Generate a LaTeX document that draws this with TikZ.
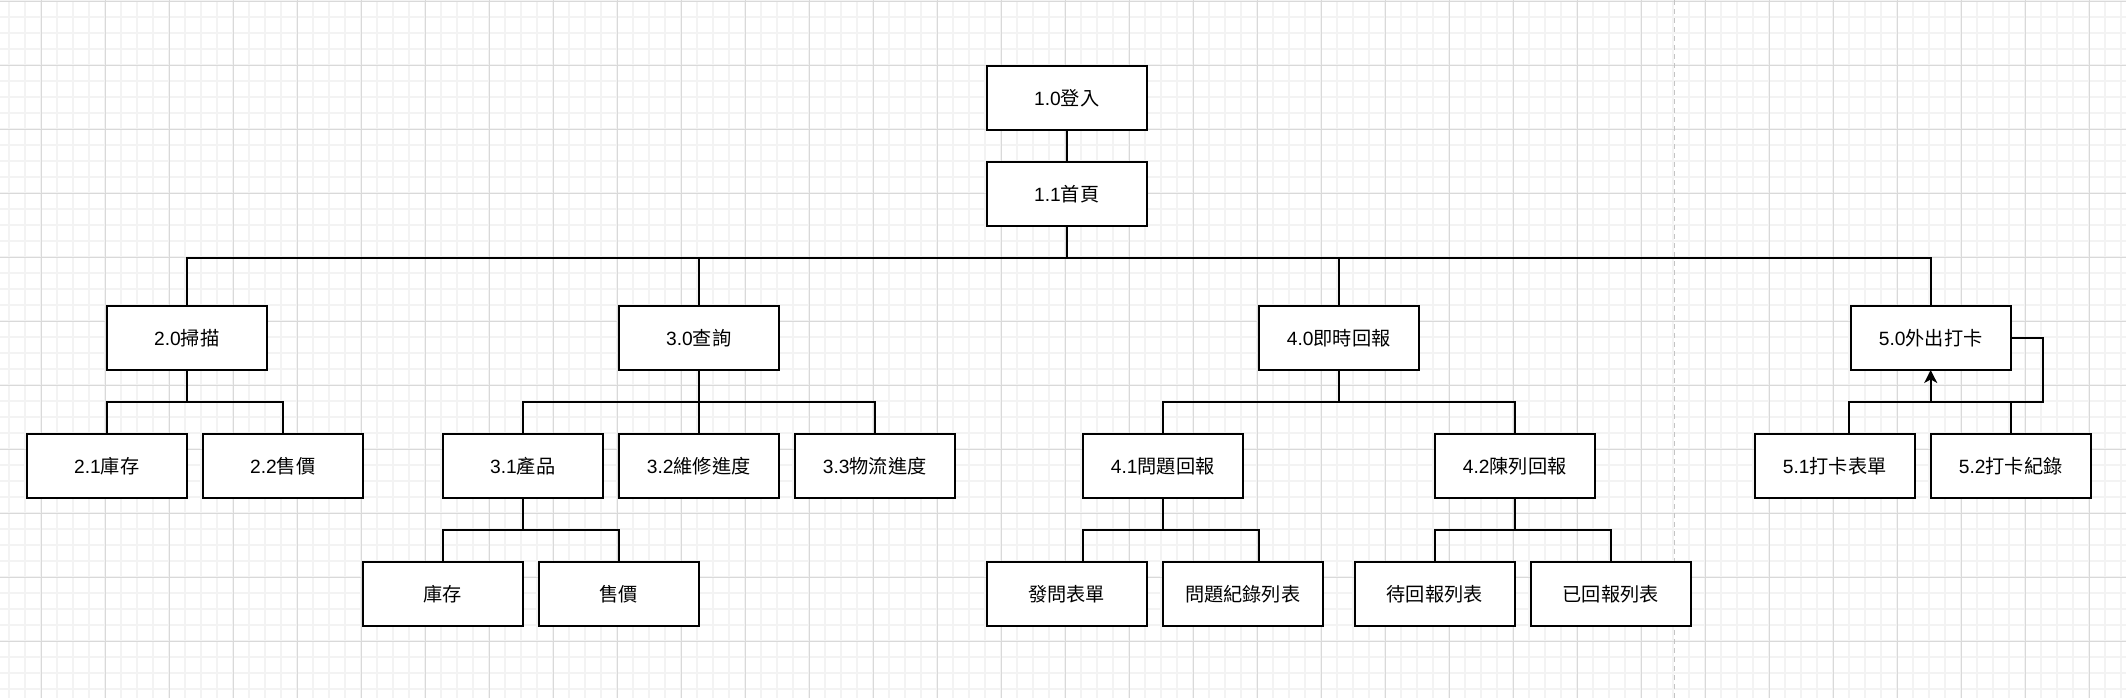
\documentclass[tikz,border=0pt]{standalone}
\usepackage{fontspec}
\setmainfont{Liberation Sans}
\newfontfamily\cjkfont{Noto Sans CJK TC}
\newcommand\zh[1]{{\cjkfont #1}}
\usetikzlibrary{arrows.meta}
\definecolor{gridminor}{HTML}{F3F3F3}
\definecolor{gridmajor}{HTML}{D9D9D9}
\definecolor{pageline}{HTML}{C4C4C4}
\begin{document}
\begin{tikzpicture}[x=0.5pt,y=-0.5pt,
 box/.style={draw=black, line width=0.8pt, fill=white, minimum width=80pt, minimum height=32pt, inner sep=0pt, outer sep=0pt, font=\fontsize{9.6pt}{11pt}\selectfont},
 link/.style={draw=black, line width=0.8pt},
 minorline/.style={draw=gridminor, line width=1pt},
 majorline/.style={draw=gridmajor, line width=0.5pt},
 pagebreak/.style={draw=pageline, line width=0.5pt, dash pattern=on 2.5pt off 2pt}]
\fill[white] (0,0) rectangle (2126,698);
\useasboundingbox (0,0) rectangle (2126,698);
% grid
\foreach \k in {0,...,132} \draw[minorline] (9.3+16*\k,0) -- (9.3+16*\k,698);
\foreach \k in {0,...,43} \draw[minorline] (0,1.3+16*\k) -- (2126,1.3+16*\k);
\foreach \k in {0,...,32} \draw[majorline] (41.3+64*\k,0) -- (41.3+64*\k,698);
\foreach \k in {0,...,10} \draw[majorline] (0,1.3+64*\k) -- (2126,1.3+64*\k);
\draw[pagebreak] (1674.7,0) -- (1674.7,698);
% nodes
\node[box] (n10) at (1066.7,98) {1.0\zh{登入}};
\node[box] (n11) at (1066.7,194) {1.1\zh{首頁}};
\node[box] (n20) at (186.7,338) {2.0\zh{掃描}};
\node[box] (n21) at (106.7,466) {2.1\zh{庫存}};
\node[box] (n22) at (282.7,466) {2.2\zh{售價}};
\node[box] (n30) at (698.7,338) {3.0\zh{查詢}};
\node[box] (n31) at (522.7,466) {3.1\zh{產品}};
\node[box] (n32) at (698.7,466) {3.2\zh{維修進度}};
\node[box] (n33) at (874.7,466) {3.3\zh{物流進度}};
\node[box] (n311) at (442.7,594) {\zh{庫存}};
\node[box] (n312) at (618.7,594) {\zh{售價}};
\node[box] (n40) at (1338.7,338) {4.0\zh{即時回報}};
\node[box] (n41) at (1162.7,466) {4.1\zh{問題回報}};
\node[box] (n42) at (1514.7,466) {4.2\zh{陳列回報}};
\node[box] (n411) at (1066.7,594) {\zh{發問表單}};
\node[box] (n412) at (1242.7,594) {\zh{問題紀錄列表}};
\node[box] (n421) at (1434.7,594) {\zh{待回報列表}};
\node[box] (n422) at (1610.7,594) {\zh{已回報列表}};
\node[box] (n50) at (1930.7,338) {5.0\zh{外出打卡}};
\node[box] (n51) at (1834.7,466) {5.1\zh{打卡表單}};
\node[box] (n52) at (2010.7,466) {5.2\zh{打卡紀錄}};
\coordinate (bus) at (1066.7,258);
\coordinate (c5) at (2042.7,402);
% connectors
\draw[link] (n10.south) -- (n11.north);
\draw[link] (n11.south) -- (bus) -| (n20.north);
\draw[link] (bus) -| (n30.north);
\draw[link] (bus) -| (n40.north);
\draw[link] (bus) -| (n50.north);
\draw[link] (n20.south) -- ++(0,32) -| (n21.north);
\draw[link] (n20.south) -- ++(0,32) -| (n22.north);
\draw[link] (n30.south) -- ++(0,32) -| (n31.north);
\draw[link] (n30.south) -- (n32.north);
\draw[link] (n30.south) -- ++(0,32) -| (n33.north);
\draw[link] (n31.south) -- ++(0,32) -| (n311.north);
\draw[link] (n31.south) -- ++(0,32) -| (n312.north);
\draw[link] (n40.south) -- ++(0,32) -| (n41.north);
\draw[link] (n40.south) -- ++(0,32) -| (n42.north);
\draw[link] (n41.south) -- ++(0,32) -| ([xshift=8pt]n411.north);
\draw[link] (n41.south) -- ++(0,32) -| ([xshift=8pt]n412.north);
\draw[link] (n42.south) -- ++(0,32) -| (n421.north);
\draw[link] (n42.south) -- ++(0,32) -| (n422.north);
\draw[link] ([xshift=7pt]n51.north) |- (c5) |- (n50.east);
\draw[link] (n52.north) -- (n52.north |- c5);
\draw[link,-{Stealth[length=6.5pt,width=6.5pt,inset=1.8pt]}] (n50.south |- c5) -- (n50.south);
\end{tikzpicture}
\end{document}
